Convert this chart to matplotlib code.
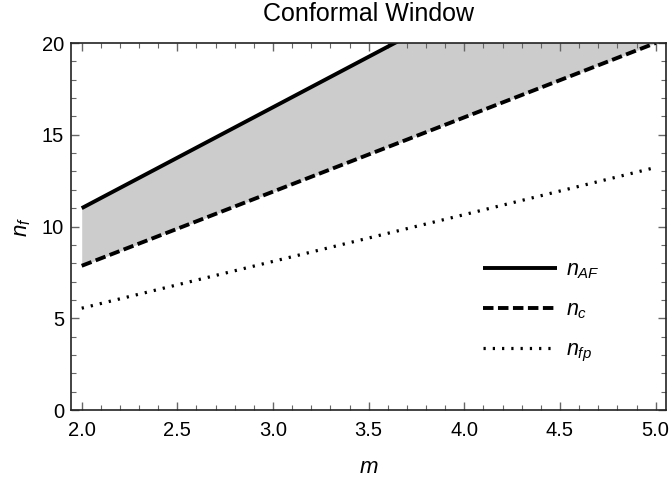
import numpy as np
import matplotlib
matplotlib.use("Agg")
import matplotlib.pyplot as plt
from matplotlib.ticker import MultipleLocator, FormatStrFormatter

plt.rcParams['font.family'] = ['Liberation Sans', 'DejaVu Sans']
plt.rcParams['mathtext.fontset'] = 'custom'
plt.rcParams['mathtext.it'] = 'Liberation Sans:italic'
plt.rcParams['mathtext.rm'] = 'Liberation Sans'

# values
m = [2.0, 3.0, 4.0, 5.0]
n_af = [11.0, 16.5, 22.0, 27.5]
n_c = [7.86, 11.9, 15.95, 20.0]
n_fp = [5.55, 8.1, 10.65, 13.22]

fig = plt.figure(figsize=(6.71, 4.87), dpi=100)
ax = fig.add_axes([0.1058, 0.158, 0.8867, 0.7537])

# shaded conformal window
ax.fill_between(m, n_c, n_af, color='#cccccc', lw=0)

ax.plot(m, n_af, color='black', lw=2.8, solid_capstyle='butt', label=r'$n_{AF}$')
ax.plot(m, n_c, color='black', lw=2.8, dashes=(2.7, 1.15), label=r'$n_c$')
ax.plot(m, n_fp, color='black', lw=2.3, dashes=(0.7, 2.2), label=r'$n_{fp}$')

ax.set_xlim(1.944, 5.054)
ax.set_ylim(0, 20)
ax.xaxis.set_major_locator(MultipleLocator(0.5))
ax.xaxis.set_minor_locator(MultipleLocator(0.1))
ax.yaxis.set_major_locator(MultipleLocator(5))
ax.yaxis.set_minor_locator(MultipleLocator(1))
ax.xaxis.set_major_formatter(FormatStrFormatter('%.1f'))

ax.tick_params(which='both', direction='in', top=True, right=True, color='#666666', labelsize=14.5)
ax.tick_params(which='major', length=6, width=1)
ax.tick_params(which='minor', length=3.5, width=0.8)
ax.tick_params(axis='x', which='major', pad=8)
ax.tick_params(axis='y', which='major', pad=5)
for s in ax.spines.values():
    s.set_linewidth(1.2)
    s.set_color('#222222')

ax.set_xlabel(r'$m$', fontsize=16, labelpad=12)
ax.set_ylabel(r'$n_f$', fontsize=16, labelpad=6)
ax.set_title('Conformal Window', fontsize=18, pad=16)

ax.legend(loc='upper left', bbox_to_anchor=(0.692, 0.41), frameon=False,
          fontsize=15.5, handlelength=3.44, handletextpad=0.42, labelspacing=0.85,
          borderpad=0, borderaxespad=0)

fig.savefig('out.png', dpi=100)
